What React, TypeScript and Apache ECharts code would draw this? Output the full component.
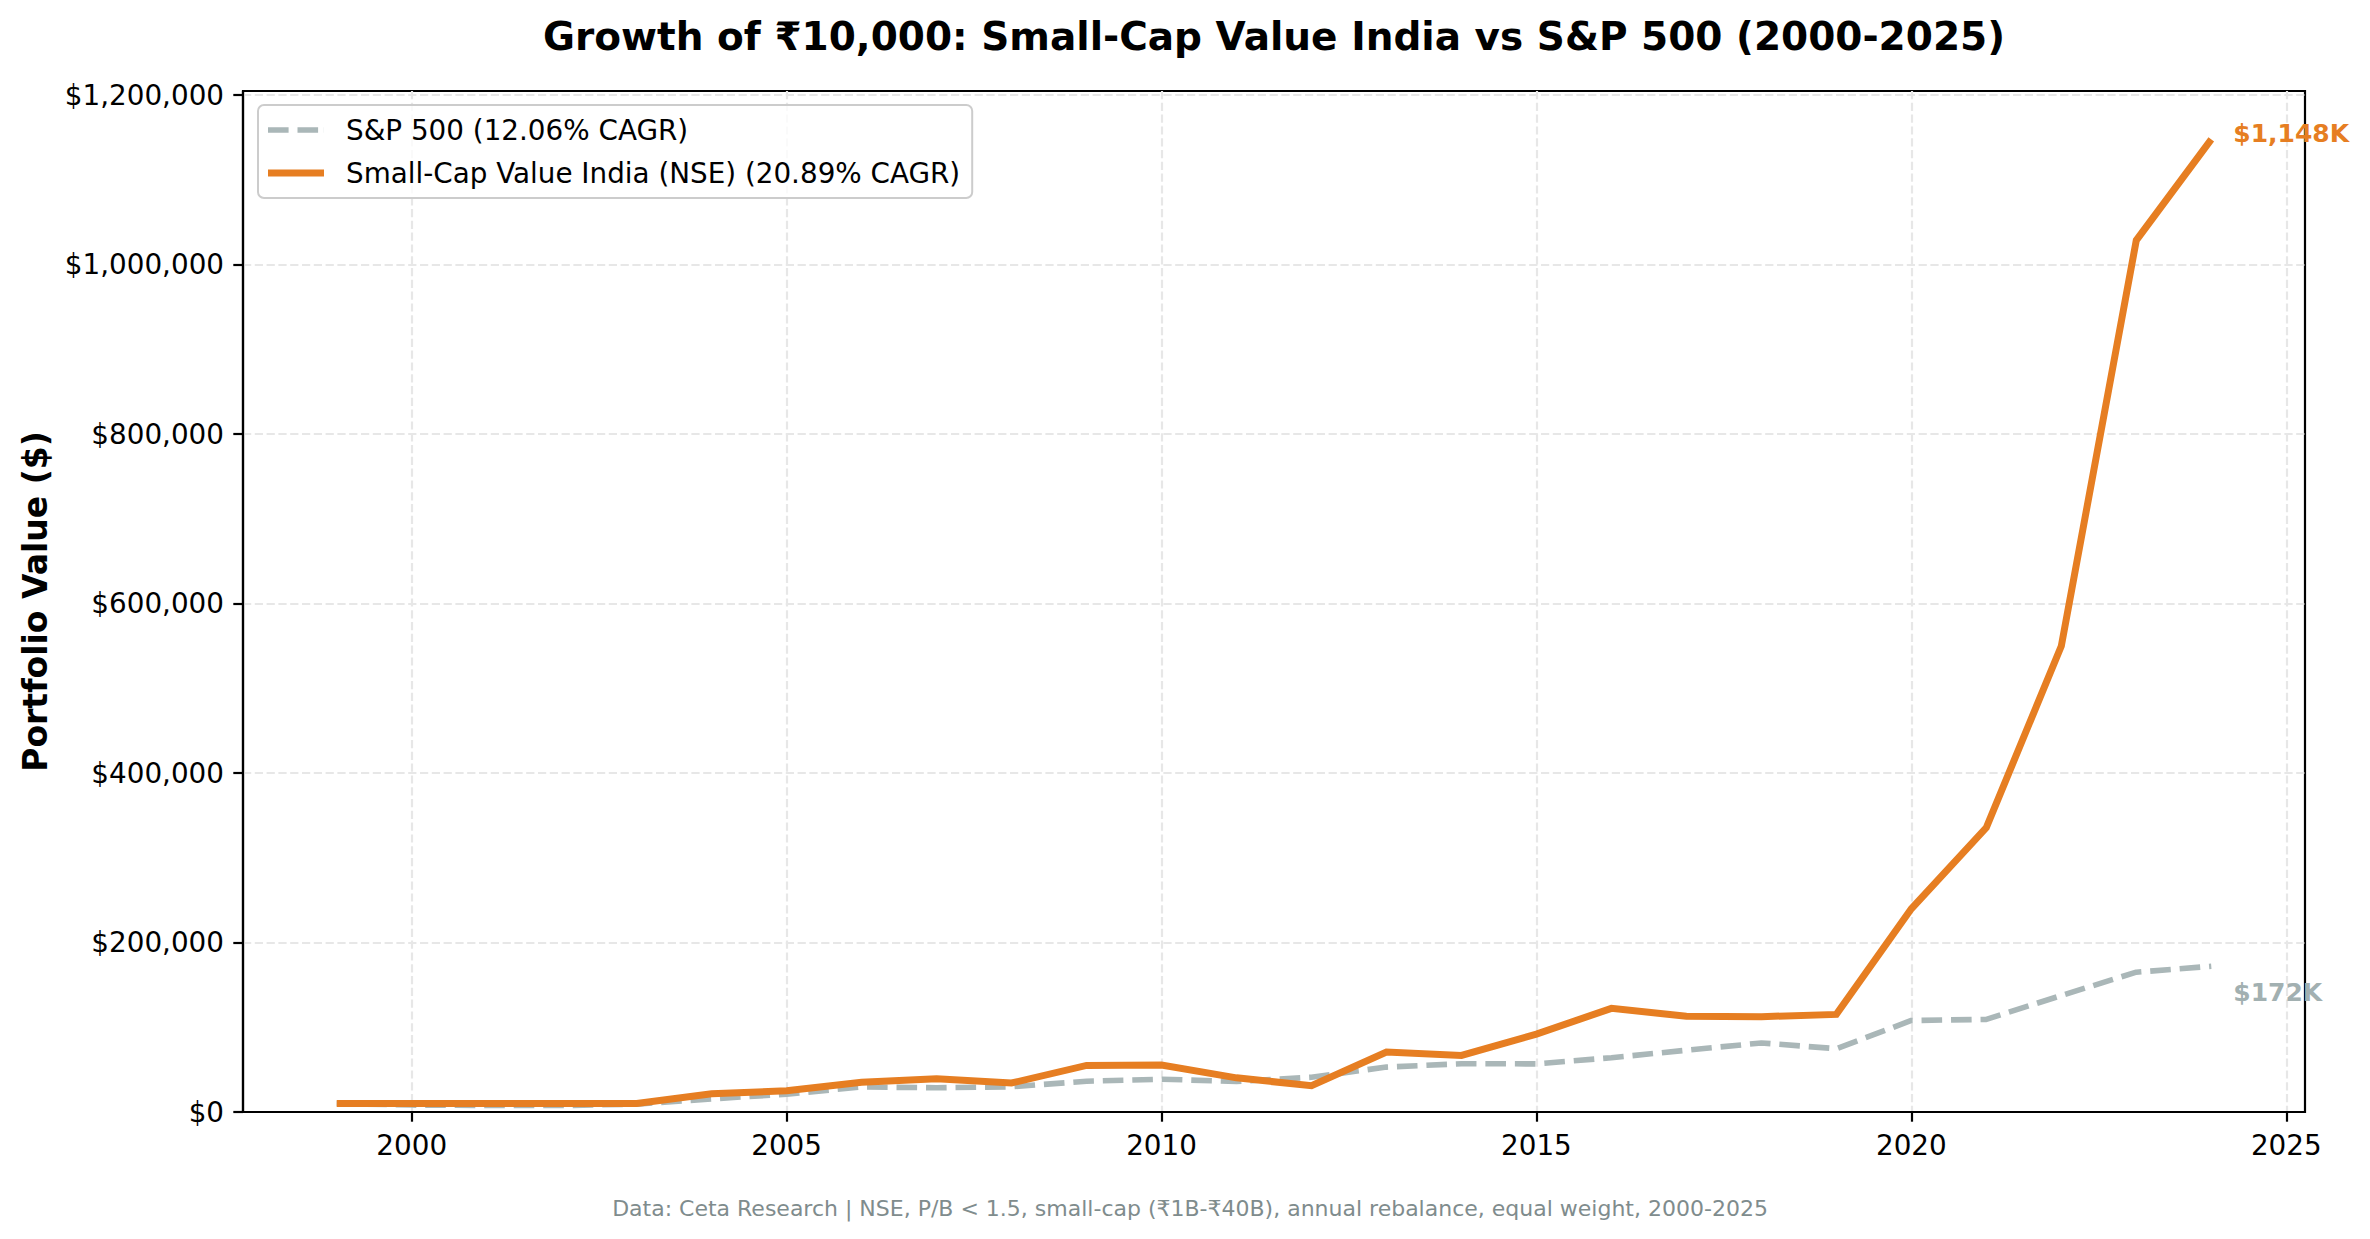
import React, { useEffect, useRef } from 'react';
import * as echarts from 'echarts';

const years = [
  1999, 2000, 2001, 2002, 2003, 2004, 2005, 2006, 2007, 2008, 2009, 2010, 2011,
  2012, 2013, 2014, 2015, 2016, 2017, 2018, 2019, 2020, 2021, 2022, 2023, 2024,
];
const spValues = [
  10000, 8200, 7700, 7600, 9300, 15500, 21000, 29500, 28600, 29800, 36300, 38700, 36100,
  41000, 53000, 57000, 56800, 64100, 72900, 81500, 74700, 108000, 109300, 137500, 165000, 172000,
];
const indiaValues = [
  10000, 10000, 10000, 10000, 10000, 21500, 25000, 35000, 39300, 34200, 55000, 55500, 40300,
  31000, 70800, 66800, 92000, 122300, 113000, 112500, 115200, 239800, 335700, 549900, 1028800, 1148000,
];
const xTicks = [2000, 2005, 2010, 2015, 2020, 2025];
const yTicks = [0, 200000, 400000, 600000, 800000, 1000000, 1200000];
const spName = 'S&P 500 (12.06% CAGR)';
const indiaName = 'Small-Cap Value India (NSE) (20.89% CAGR)';
const titleText = 'Growth of ₹10,000: Small-Cap Value India vs S&P 500 (2000-2025)';
const yAxisTitle = 'Portfolio Value ($)';
const footnote =
  'Data: Ceta Research | NSE, P/B < 1.5, small-cap (₹1B-₹40B), annual rebalance, equal weight, 2000-2025';

const FONT = '"DejaVu Sans", sans-serif';
const ORANGE = '#e67e22';
const GRAY = '#aab7b8';
const GRAY_LABEL = '#a2b0b1';

const DASH_ICON =
  'path://M0,0h20.6v5.6h-20.6z M29.5,0h20.6v5.6h-20.6z M55.9,0h0.1v5.6h-0.1z';

function fmtDollar(v: number) {
  return '$' + Math.round(v).toLocaleString('en-US');
}
function fmtK(v: number) {
  return '$' + Math.round(v / 1000).toLocaleString('en-US') + 'K';
}

function endLabel(values: number[], color: string, offsetY: number) {
  return {
    show: true,
    formatter: fmtK(values[values.length - 1]),
    distance: 22,
    offset: [0, offsetY],
    color,
    fontFamily: FONT,
    fontWeight: 'bold',
    fontSize: 25,
  };
}

export default function App() {
  const ref = useRef<HTMLDivElement>(null);

  useEffect(() => {
    document.body.style.margin = '0';
    if (!ref.current) return;
    const chart = echarts.init(ref.current, null, { renderer: 'svg' });
    const option: any = {
      animation: false,
      backgroundColor: '#ffffff',
      textStyle: { fontFamily: FONT },
      title: [
        {
          text: titleText,
          left: 1274,
          top: 17,
          textAlign: 'center',
          padding: 0,
          textStyle: { fontFamily: FONT, fontWeight: 'bold', fontSize: 39, color: '#000' },
        },
        {
          text: footnote,
          left: 1190,
          top: 1197,
          textAlign: 'center',
          padding: 0,
          textStyle: { fontFamily: FONT, fontWeight: 'normal', fontSize: 22, color: '#7f8c8d' },
        },
      ],
      legend: {
        orient: 'vertical',
        left: 258,
        top: 105,
        padding: [10, 12, 10, 10],
        itemWidth: 56,
        itemHeight: 7,
        itemGap: 13,
        backgroundColor: 'rgba(255,255,255,0.8)',
        borderColor: '#cccccc',
        borderWidth: 2,
        borderRadius: 6,
        data: [
          { name: spName, icon: DASH_ICON, itemStyle: { color: GRAY } },
          { name: indiaName, icon: 'rect', itemStyle: { color: ORANGE } },
        ],
        textStyle: {
          fontFamily: FONT,
          fontSize: 27.8,
          color: '#000',
          lineHeight: 30,
          padding: [0, 0, 0, 17],
        },
      },
      grid: {
        left: 243,
        right: 65,
        top: 91,
        bottom: 127,
        show: true,
        borderColor: '#000',
        borderWidth: 2.2,
        backgroundColor: 'transparent',
        containLabel: false,
      },
      xAxis: {
        type: 'value',
        min: 1997.75,
        max: 2025.25,
        axisLine: { show: true, onZero: false, lineStyle: { color: '#000', width: 2.2 } },
        axisTick: {
          show: true,
          length: 9.7,
          inside: false,
          customValues: xTicks,
          lineStyle: { color: '#000', width: 2.2 },
        },
        axisLabel: {
          customValues: xTicks,
          margin: 19,
          fontFamily: FONT,
          fontSize: 27.8,
          color: '#000',
          formatter: (v: number) => String(v),
        },
        splitLine: {
          show: true,
          lineStyle: { color: '#e7e7e7', width: 2.2, type: [8.2, 3.6] },
        },
      },
      yAxis: {
        type: 'value',
        min: 0,
        max: 1205000,
        name: yAxisTitle,
        nameLocation: 'middle',
        nameGap: 191,
        nameTextStyle: { fontFamily: FONT, fontWeight: 'bold', fontSize: 33, color: '#000' },
        axisLine: { show: true, lineStyle: { color: '#000', width: 2.2 } },
        axisTick: {
          show: true,
          length: 9.7,
          inside: false,
          customValues: yTicks,
          lineStyle: { color: '#000', width: 2.2 },
        },
        axisLabel: {
          customValues: yTicks,
          margin: 19,
          fontFamily: FONT,
          fontSize: 27.8,
          color: '#000',
          formatter: (v: number) => fmtDollar(v),
        },
        splitLine: {
          show: true,
          lineStyle: { color: '#e7e7e7', width: 2.2, type: [8.2, 3.6] },
        },
      },
      series: [
        {
          name: spName,
          type: 'line',
          data: years.map((y, i) => [y, spValues[i]]),
          showSymbol: false,
          symbol: 'none',
          color: GRAY,
          lineStyle: { color: GRAY, width: 5.6, type: [20.6, 8.9], cap: 'butt' },
          endLabel: endLabel(spValues, GRAY_LABEL, 26),
          z: 2,
        },
        {
          name: indiaName,
          type: 'line',
          data: years.map((y, i) => [y, indiaValues[i]]),
          showSymbol: false,
          symbol: 'none',
          color: ORANGE,
          lineStyle: { color: ORANGE, width: 7, cap: 'butt', join: 'miter' },
          endLabel: endLabel(indiaValues, ORANGE, -6),
          z: 3,
        },
      ],
    };
    chart.setOption(option);
    return () => {
      chart.dispose();
    };
  }, []);

  return <div ref={ref} style={{ width: 2370, height: 1239 }} />;
}
